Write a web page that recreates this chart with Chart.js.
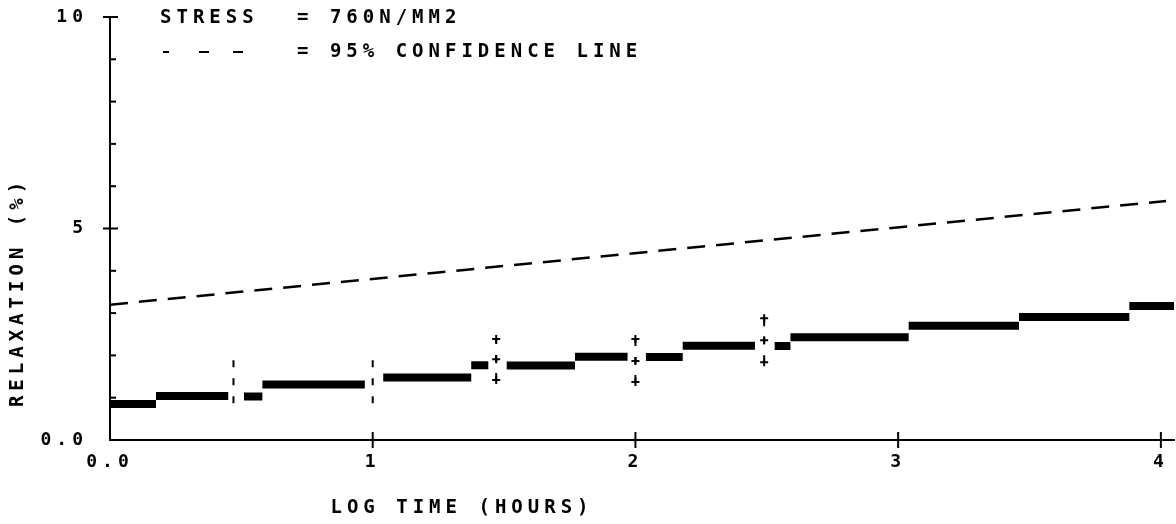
<!DOCTYPE html>
<html>
<head>
<meta charset="utf-8">
<script src="https://cdn.jsdelivr.net/npm/chart.js@4"></script>
<style>
  html, body { margin: 0; padding: 0; background: #fff; }
  #wrap { width: 1176px; height: 524px; }
</style>
</head>
<body>
<div id="wrap"><canvas id="myChart"></canvas></div>
<script>
// relaxation steps: start / end (log hours) and level (%)
var segStart = [0.0, 0.175, 0.51, 0.58, 1.04, 1.375, 1.51, 1.77, 2.04, 2.18, 2.53, 2.59, 3.04, 3.46, 3.88];
var segEnd   = [0.175, 0.45, 0.58, 0.97, 1.375, 1.44, 1.77, 1.97, 2.18, 2.455, 2.59, 3.04, 3.46, 3.88, 4.05];
var segValue = [0.85, 1.04, 1.03, 1.31, 1.48, 1.77, 1.76, 1.97, 1.96, 2.23, 2.22, 2.43, 2.70, 2.91, 3.17];

// 95% confidence line
var confX = [0, 4.02];
var confY = [3.2, 5.65];

// vertical dashed markers between test groups
var markX    = [0.47, 1.0, 1.47, 2.0, 2.49];
var markLow  = [0.87, 0.87, 1.42, 1.37, 1.84];
var markMid  = [1.47, 1.47, 1.91, 1.87, 2.36];
var markHigh = [2.06, 2.06, 2.39, 2.39, 2.88];
var markCross = [false, false, true, true, true];

var xTicks = [0, 1, 2, 3, 4];
var xTickLabels = ['0.0', '1', '2', '3', '4'];
var yTicks = [0, 5, 10];
var yTickLabels = ['0.0', '5', '10'];
var yMinorStep = 0.5;

var FONT = '"DejaVu Sans Mono", monospace';
var SPACING = '5px';

var stepData = [];
for (var i = 0; i < segValue.length; i++) {
  stepData.push({ x: segStart[i], y: segValue[i] });
  stepData.push({ x: segEnd[i], y: segValue[i] });
  stepData.push({ x: segEnd[i], y: null });
}

var markData = [];
for (var j = 0; j < markX.length; j++) {
  markData.push({ x: markX[j], y: markLow[j] });
  markData.push({ x: markX[j], y: markMid[j] });
  markData.push({ x: markX[j], y: markHigh[j] });
  markData.push({ x: markX[j], y: null });
}

var plotter = {
  id: 'plotter',
  beforeLayout: function (chart) { chart.ctx.letterSpacing = SPACING; },
  beforeDraw: function (chart) { chart.ctx.letterSpacing = SPACING; },
  afterDraw: function (chart) {
    var c = chart.ctx, xs = chart.scales.x, ys = chart.scales.y;
    c.save();
    c.strokeStyle = '#000';
    c.fillStyle = '#000';
    c.lineWidth = 2;
    // small ticks inside the y axis, crossing ones at 5 and 10
    ys.ticks.forEach(function (t) {
      var py = ys.getPixelForValue(t.value);
      var major = t.value !== 0 && yTicks.indexOf(t.value) >= 0;
      c.beginPath();
      c.moveTo(xs.left - (major ? 7 : 0), py);
      c.lineTo(xs.left + (major ? 8 : 6), py);
      c.stroke();
    });
    xs.ticks.forEach(function (t) {
      if (t.value === 0) return;
      var px = xs.getPixelForValue(t.value);
      c.beginPath();
      c.moveTo(px, ys.bottom - 8);
      c.lineTo(px, ys.bottom + 8);
      c.stroke();
    });
    // legend text
    c.font = 'bold 19px ' + FONT;
    c.textBaseline = 'middle';
    c.textAlign = 'left';
    c.fillText('STRESS', 160, 18);
    c.fillText('= 760N/MM2', 297, 18);
    c.fillText('= 95% CONFIDENCE LINE', 297, 52);
    c.setLineDash([6, 30, 10, 24, 10, 200]);
    c.beginPath();
    c.moveTo(163, 52);
    c.lineTo(243, 52);
    c.stroke();
    c.setLineDash([]);
    // axis titles
    c.textAlign = 'center';
    c.fillText('LOG TIME (HOURS)', 462, 508);
    c.translate(18, 292);
    c.rotate(-Math.PI / 2);
    c.fillText('RELAXATION (%)', 0, 0);
    c.restore();
  }
};

new Chart(document.getElementById('myChart'), {
  type: 'line',
  data: {
    datasets: [
      {
        data: stepData,
        borderColor: '#000',
        borderWidth: 8,
        borderCapStyle: 'butt',
        pointRadius: 0,
        spanGaps: false
      },
      {
        data: confX.map(function (x, k) { return { x: x, y: confY[k] }; }),
        borderColor: '#000',
        borderWidth: 2.5,
        borderDash: [18, 11],
        pointRadius: 0
      },
      {
        data: markData,
        borderColor: '#000',
        borderWidth: 2,
        borderDash: [7, 11],
        spanGaps: false,
        pointStyle: 'cross',
        pointBorderWidth: 2,
        pointBorderColor: '#000',
        pointRadius: function (ctx) {
          var raw = ctx.raw;
          return raw && raw.y !== null && markCross[Math.floor(ctx.dataIndex / 4)] ? 4 : 0;
        }
      }
    ]
  },
  options: {
    animation: false,
    responsive: true,
    maintainAspectRatio: false,
    layout: { padding: { top: 17, right: 2, left: 0, bottom: 0 } },
    plugins: { legend: { display: false }, tooltip: { enabled: false } },
    scales: {
      x: {
        type: 'linear',
        min: 0,
        max: 4.05,
        afterBuildTicks: function (scale) {
          scale.ticks = xTicks.map(function (v) { return { value: v }; });
        },
        afterFit: function (scale) {
          scale.height = 84;
          scale.paddingLeft = 0;
          scale.paddingRight = 0;
        },
        ticks: {
          color: '#000',
          padding: 12,
          maxRotation: 0,
          font: { family: FONT, size: 18, weight: 'bold' },
          callback: function (v) {
            var k = xTicks.indexOf(v);
            return k >= 0 ? xTickLabels[k] : '';
          }
        },
        grid: { display: true, drawOnChartArea: false, drawTicks: false },
        border: { display: true, color: '#000', width: 2, dash: [26, 3] }
      },
      y: {
        min: 0,
        max: 10,
        afterBuildTicks: function (scale) {
          var t = [];
          for (var v = 0; v <= 10; v += yMinorStep) t.push({ value: v });
          scale.ticks = t;
        },
        afterFit: function (scale) {
          scale.width = 110;
          scale.paddingTop = 0;
          scale.paddingBottom = 0;
        },
        ticks: {
          color: '#000',
          padding: 22,
          font: { family: FONT, size: 18, weight: 'bold' },
          callback: function (v) {
            var k = yTicks.indexOf(v);
            return k >= 0 ? yTickLabels[k] : '';
          }
        },
        grid: { display: true, drawOnChartArea: false, drawTicks: false },
        border: { display: true, color: '#000', width: 2, dash: [11, 4] }
      }
    }
  },
  plugins: [plotter]
});
</script>
</body>
</html>
